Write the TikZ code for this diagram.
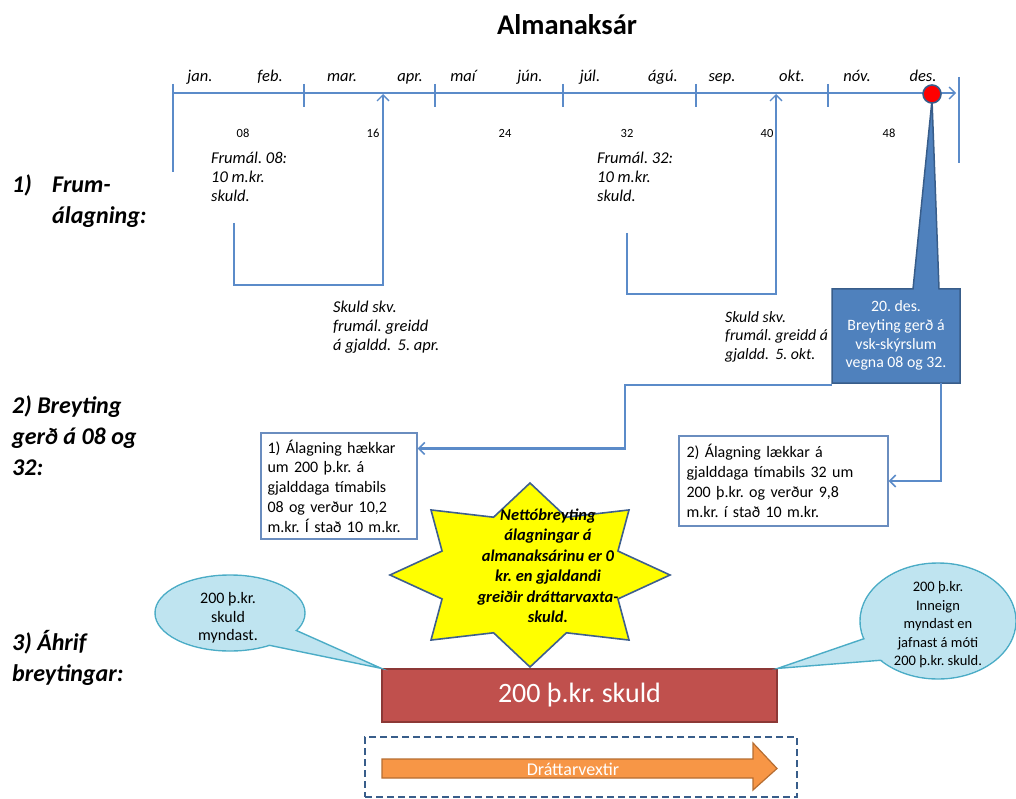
\documentclass[tikz,border=0pt]{standalone}
\usepackage{fontspec}
\setmainfont{Carlito}
\usetikzlibrary{arrows.meta,calc}
\frenchspacing
\definecolor{tlblue}{HTML}{5B8BC9}
\definecolor{boxblue}{HTML}{4F81BD}
\definecolor{boxborder}{HTML}{385D8A}
\definecolor{redfill}{HTML}{C0504D}
\definecolor{redborder}{HTML}{8C3836}
\definecolor{orfill}{HTML}{F79646}
\definecolor{orborder}{HTML}{B66D31}
\definecolor{bubfill}{HTML}{BFE4F0}
\definecolor{bubborder}{HTML}{4BACC6}
\definecolor{textbox}{HTML}{6A8DBF}
\definecolor{starfill}{HTML}{FFFF00}
\definecolor{starborder}{HTML}{3E5F8E}
\tikzset{
  tl/.style={draw=tlblue,line width=1.3pt},
  tlarrow/.style={tl,-{Straight Barb[length=6pt,width=12pt,line width=1.3pt]}},
  month/.style={font=\itshape\fontsize{16.5}{18}\selectfont,anchor=base,inner sep=0pt},
  num/.style={font=\fontsize{12.5}{14}\selectfont},
  note/.style={font=\itshape\fontsize{16.5}{18.8}\selectfont,align=left,inner sep=0pt,anchor=north west},
  sect/.style={font=\bfseries\itshape\fontsize{24}{31}\selectfont,align=left,inner sep=0pt,anchor=north west},
  infobox/.style={draw=textbox,line width=1.2pt,fill=white,font=\fontsize{16}{19.8}\selectfont,align=left,inner sep=0pt},
  conn/.style={draw=tlblue,line width=2.2pt,-{Straight Barb[length=6pt,width=12pt,line width=1.6pt]}},
  bubtext/.style={align=center,inner sep=0pt},
}
\begin{document}
\begin{tikzpicture}[x=1pt,y=-1pt]
\useasboundingbox (0,0) rectangle (1016,799);
% title
\node[font=\bfseries\fontsize{28.5}{32}\selectfont] (title) at (567,25) {Almanaksár};
% timeline
\draw[tlarrow] (173,93) -- (956,93);
\draw[tl] (173,84) -- (173,172);
\draw[tl] (959,77) -- (959,163);
\foreach \x in {304,435,563,696,828} \draw[tl] (\x,84) -- (\x,107);
\foreach \x/\m in {200/jan.,270/feb.,342/mar.,410/apr.,463/maí,530/jún.,590/júl.,663/ágú.,722/sep.,792/okt.,857/nóv.,923/des.}
  \node[month] at (\x,82) {\m};
\foreach \x/\n in {243/08,373/16,505/24,627/32,767/40,889/48}
  \node[num] at (\x,133) {\n};
% frumálagning notes
\node[note] (f08) at (211,152) {Frumál. 08:\\10 m.kr.\\skuld.};
\node[note] (f32) at (597,152) {Frumál. 32:\\10 m.kr.\\skuld.};
\draw[tlarrow] (234,223) -- (234,285) -- (383,285) -- (383,94);
\draw[tlarrow] (627,233) -- (627,294) -- (776,294) -- (776,94);
\node[note] (s1) at (333,301) {Skuld skv.\\frumál. greidd\\á gjaldd.\, 5. apr.};
\node[note,font=\itshape\fontsize{15.8}{18.5}\selectfont] (s2) at (725,311) {Skuld skv.\\frumál. greidd á\\gjaldd.\, 5. okt.};
% callout with pointer
\draw[fill=boxblue,draw=boxborder,line width=1.5pt,line join=miter]
  (832,289) -- (913,289) -- (932,100) -- (939,289) -- (960,289) -- (960,383) -- (832,383) -- cycle;
\node[text=white,font=\fontsize{15.8}{18.6}\selectfont,minimum width=128pt,minimum height=94pt,inner sep=0pt] (callout) at (896,336)
  {\raisebox{-6pt}{\begin{tabular}{@{}c@{}}20. des.\\Breyting gerð á\\vsk-skýrslum\\vegna 08 og 32.\end{tabular}}};
\node[circle,fill=red,draw=boxborder,line width=1.6pt,minimum size=18pt,inner sep=0pt] (dot) at (932,94) {};
% section labels
\node[sect] (l1) at (12,175) {\makebox[40pt][l]{1)}Frum-\\\hspace*{40pt}álagning:};
\node[sect] (l2) at (12,396) {2) Breyting\\gerð á 08 og\\32:};
\node[sect] (l3) at (12,630) {3) Áhrif\\breytingar:};
% info boxes
\node[infobox,minimum width=156pt,minimum height=106pt,text width=143pt] (b1) at (339,486)
  {1) Álagning hækkar\\um 200 þ.kr. á\\gjalddaga tímabils\\08 og verður 10,2\\m.kr. Í stað 10 m.kr.};
\node[infobox,minimum width=209pt,minimum height=90pt,text width=194pt] (b2) at (783.5,481)
  {2) Álagning lækkar á\\gjalddaga tímabils 32 um\\200 þ.kr. og verður 9,8\\m.kr. í stað 10 m.kr.};
\draw[conn] ($(callout.south west)+(0,1.5)$) -- ++(-207,0) |- ($(b1.north east)+(0,16)$);
\draw[conn] ($(callout.south east)+(-19,0)$) |- (b2.east);
% star
\def\scx{530}\def\scy{575}
\draw[fill=starfill,draw=starborder,line width=1.6pt,line join=miter]
  ({\scx+140},{\scy})
  \foreach \i in {1,...,15} {
    -- ({\scx+140*(1-0.32*mod(\i,2))*cos(22.5*\i)},{\scy+92*(1-0.32*mod(\i,2))*sin(22.5*\i)})
  } -- cycle;
\node[font=\bfseries\itshape\fontsize{16.5}{20.5}\selectfont,align=center,inner sep=0pt] (star) at (548,566)
  {Nettóbreyting\\álagningar á\\almanaksárinu er 0\\kr. en gjaldandi\\greiðir dráttarvaxta-\\skuld.};
% red box
\node[fill=redfill,draw=redborder,line width=1.2pt,text=white,font=\fontsize{28}{32}\selectfont,minimum width=395pt,minimum height=53pt,inner sep=0pt] (red) at (579.5,695.5) {200 þ.kr. skuld};
% bubbles
\fill[bubfill] (230,613) ellipse [x radius=75,y radius=38];
\draw[bubborder,line width=1.4pt] (230,613) ellipse [x radius=75,y radius=38];
\draw[fill=bubfill,draw=bubborder,line width=1.4pt,line join=miter] (293,629) -- (red.north west) -- (268,645);
\fill[bubfill] (230,613) ellipse [x radius=74,y radius=37];
\node[bubtext,font=\fontsize{16}{18.3}\selectfont] (bub1) at (228,618) {200 þ.kr.\\skuld\\myndast.};
\fill[bubfill] (938,621) ellipse [x radius=78,y radius=58];
\draw[bubborder,line width=1.4pt] (938,621) ellipse [x radius=78,y radius=58];
\draw[fill=bubfill,draw=bubborder,line width=1.4pt,line join=miter] (866,638) -- (red.north east) -- (884,660);
\fill[bubfill] (938,621) ellipse [x radius=77,y radius=57];
\node[bubtext,font=\fontsize{14.5}{18.5}\selectfont] (bub2) at (938,625) {200 þ.kr.\\Inneign\\myndast en\\jafnast á móti\\200 þ.kr. skuld.};
% dashed box and orange arrow
\node[draw=boxborder,dash pattern=on 7pt off 4pt,line width=2.2pt,minimum width=432pt,minimum height=60pt,inner sep=0pt] (dbox) at (581,767) {};
\draw[fill=orfill,draw=orborder,line width=1.2pt,line join=miter]
  (382,759) -- (753,759) -- (753,743) -- (777,768.5) -- (753,790) -- (753,778) -- (382,778) -- cycle;
\node[text=white,font=\fontsize{18}{20}\selectfont,inner sep=0pt] (dv) at (573,769) {Dráttarvextir};
\end{tikzpicture}
\end{document}
